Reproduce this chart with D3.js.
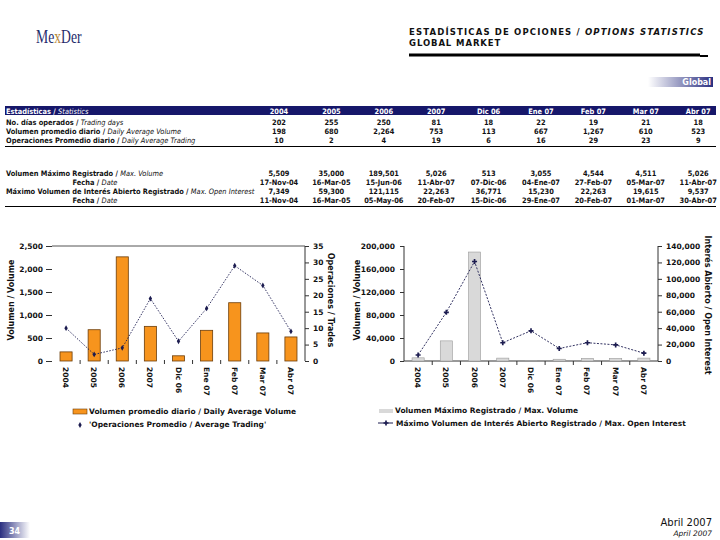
<!DOCTYPE html>
<html><head><meta charset="utf-8">
<script src="https://cdn.jsdelivr.net/npm/d3@7"></script>
<style>
body{margin:0;background:#fff;}
svg{display:block;}
text{font-family:"DejaVu Sans",Verdana,sans-serif;}
.tb text{font-family:"DejaVu Sans Condensed","DejaVu Sans",sans-serif;font-stretch:condensed;font-size:7.4px;font-weight:bold;}
.tb .en{font-weight:normal;font-style:italic;}
.ax text{font-family:"DejaVu Sans",sans-serif;font-size:7.5px;font-weight:bold;fill:#111;}
.ax line,.ax path{stroke:#333;}
</style></head>
<body>
<svg id="c" width="720" height="540"></svg>
<script>
// ---------- data ----------
const categories = ["2004","2005","2006","2007","Dic 06","Ene 07","Feb 07","Mar 07","Abr 07"];
const tradingDays = [202,255,250,81,18,22,19,21,18];
const dailyAvgVolume = [198,680,2264,753,113,667,1267,610,523];
const dailyAvgTrades = [10,2,4,19,6,16,29,23,9];
const maxVolume = [5509,35000,189501,5026,513,3055,4544,4511,5026];
const maxVolumeDate = ["17-Nov-04","16-Mar-05","15-Jun-06","11-Abr-07","07-Dic-06","04-Ene-07","27-Feb-07","05-Mar-07","11-Abr-07"];
const maxOpenInterest = [7349,59300,121115,22263,36771,15230,22263,19615,9537];
const maxOpenInterestDate = ["11-Nov-04","16-Mar-05","05-May-06","20-Feb-07","15-Dic-06","29-Ene-07","20-Feb-07","01-Mar-07","30-Abr-07"];
const leftTicksA = [0,500,1000,1500,2000,2500];
const rightTicksA = [0,5,10,15,20,25,30,35];
const leftTicksB = [0,40000,80000,120000,160000,200000];
const rightTicksB = [0,20000,40000,60000,80000,100000,120000,140000];

const svg = d3.select("#c");
const fmt = d3.format(",");

// ---------- header ----------
const defs = svg.append("defs");
const g1 = defs.append("linearGradient").attr("id","gGlobal").attr("x1","0").attr("x2","1");
g1.append("stop").attr("offset","0").attr("stop-color","#ffffff");
g1.append("stop").attr("offset","1").attr("stop-color","#2a2f80");
const g2 = defs.append("linearGradient").attr("id","gPage").attr("x1","0").attr("x2","1");
g2.append("stop").attr("offset","0").attr("stop-color","#2a2f80");
g2.append("stop").attr("offset","1").attr("stop-color","#ffffff");

const logo = svg.append("text").attr("transform","translate(36,43) scale(0.72,1)")
  .style("font-family","'Liberation Serif','DejaVu Serif',serif").style("font-size","19px")
  .attr("fill","#1f2a6b");
logo.append("tspan").text("Me");
logo.append("tspan").text("x").attr("fill","#b8893a");
logo.append("tspan").text("Der");

const title = svg.append("text").attr("x",409).attr("y",35)
  .style("font-size","8.5px").style("font-weight","bold").style("letter-spacing","1.15px").attr("fill","#111");
title.append("tspan").text("ESTADÍSTICAS DE OPCIONES / ");
title.append("tspan").text("OPTIONS STATISTICS").style("font-style","italic");
svg.append("text").attr("x",409).attr("y",46).text("GLOBAL MARKET")
  .style("font-size","8.5px").style("font-weight","bold").style("letter-spacing","0.9px").attr("fill","#111");
svg.append("rect").attr("x",409).attr("y",53.5).attr("width",291).attr("height",3).attr("fill","#000");
svg.append("rect").attr("x",700).attr("y",55).attr("width",8).attr("height",2).attr("fill","#000");

svg.append("rect").attr("x",648).attr("y",77).attr("width",65).attr("height",10).attr("fill","url(#gGlobal)");
svg.append("text").attr("x",711).attr("y",85).attr("text-anchor","end").text("Global")
  .style("font-size","8px").style("font-weight","bold").attr("fill","#fff");

// ---------- table ----------
const colX = categories.map((c,i)=>279 + i*52.4);
const tbl = svg.append("g").attr("class","tb");
tbl.append("rect").attr("x",5).attr("y",106).attr("width",711).attr("height",9).attr("fill","#16176a");
const hdr = tbl.append("text").attr("x",6).attr("y",113.5).attr("fill","#fff");
hdr.append("tspan").text("Estadísticas / ");
hdr.append("tspan").attr("class","en").text("Statistics");
tbl.selectAll("text.h").data(categories).join("text").attr("class","h")
  .attr("x",(d,i)=>colX[i]).attr("y",113.5).attr("text-anchor","middle").attr("fill","#fff").text(d=>d);

function row(y, es, en, vals, anchor){
  const t = tbl.append("text").attr("y",y).attr("fill","#111");
  if(anchor==="middle"){ t.attr("x",95).attr("text-anchor","middle"); } else { t.attr("x",6); }
  t.append("tspan").text(es);
  t.append("tspan").attr("class","en").text(en);
  tbl.append("g").selectAll("text").data(vals).join("text")
    .attr("x",(d,i)=>colX[i]).attr("y",y).attr("text-anchor","middle").attr("fill","#111").text(d=>d);
}
row(124.5,"No. días operados / ","Trading days",tradingDays.map(fmt));
row(133.5,"Volumen promedio diario / ","Daily Average Volume",dailyAvgVolume.map(fmt));
row(142.5,"Operaciones Promedio diario / ","Daily Average Trading",dailyAvgTrades.map(fmt));
tbl.append("line").attr("x1",5).attr("x2",716).attr("y1",146.5).attr("y2",146.5).attr("stroke","#000").attr("stroke-width",1.2);
row(175.5,"Volumen Máximo Registrado / ","Max. Volume",maxVolume.map(fmt));
row(184.5,"Fecha / ","Date",maxVolumeDate,"middle");
row(193.5,"Máximo Volumen de Interés Abierto Registrado / ","Max. Open Interest",maxOpenInterest.map(fmt));
row(202.5,"Fecha / ","Date",maxOpenInterestDate,"middle");
tbl.append("line").attr("x1",5).attr("x2",716).attr("y1",206.5).attr("y2",206.5).attr("stroke","#000").attr("stroke-width",1.2);

// ---------- chart A ----------
const yTop = 246, yBot = 361;
function band(x0,x1){
  return d3.scaleBand().domain(categories).range([x0,x1]).paddingInner(0.57).paddingOuter(0.285);
}
const xA = band(52,305);
const yA = d3.scaleLinear().domain([0,2500]).range([yBot,yTop]);
const yA2 = d3.scaleLinear().domain([0,35]).range([yBot,yTop]);
const cA = svg.append("g");
cA.append("line").attr("x1",52).attr("x2",305).attr("y1",yA(2500)).attr("y2",yA(2500)).attr("stroke","#555");
cA.append("g").attr("class","ax").attr("transform","translate(52,0)")
  .call(d3.axisLeft(yA).tickValues(leftTicksA).tickSize(6).tickPadding(3).tickFormat(fmt))
  .call(g=>g.select(".domain").remove());
cA.append("g").attr("class","ax").attr("transform","translate(305,0)")
  .call(d3.axisRight(yA2).tickValues(rightTicksA).tickSize(4).tickPadding(4))
  .call(g=>g.select(".domain").attr("d",`M0,${yTop}V${yBot}`));
cA.append("g").selectAll("line").data(categories.slice(0,-1)).join("line")
  .attr("x1",(d)=>xA(d)+xA.bandwidth()+xA.step()*0.285).attr("x2",(d)=>xA(d)+xA.bandwidth()+xA.step()*0.285)
  .attr("y1",yBot-1).attr("y2",yBot+3).attr("stroke","#333");
cA.append("g").selectAll("rect").data(categories).join("rect")
  .attr("x",d=>xA(d)).attr("width",xA.bandwidth())
  .attr("y",(d,i)=>yA(dailyAvgVolume[i])).attr("height",(d,i)=>yBot-yA(dailyAvgVolume[i]))
  .attr("fill","#f7941d").attr("stroke","#6b3d0a").attr("stroke-width",0.8);
const lineA = d3.line().x((d,i)=>xA(categories[i])+xA.bandwidth()/2).y(d=>yA2(d));
cA.append("path").datum(dailyAvgTrades).attr("d",lineA).attr("fill","none")
  .attr("stroke","#1c1c50").attr("stroke-width",0.9).attr("stroke-dasharray","1.5,1.5");
cA.append("g").selectAll("path").data(dailyAvgTrades).join("path")
  .attr("d",d3.symbol(d3.symbolDiamond,10))
  .attr("transform",(d,i)=>`translate(${xA(categories[i])+xA.bandwidth()/2},${yA2(d)})`)
  .attr("fill","#1c1c50");
cA.append("g").selectAll("text").data(categories).join("text")
  .attr("transform",d=>`translate(${xA(d)+xA.bandwidth()/2-3},${yBot+6}) rotate(90)`)
  .text(d=>d).style("font-size","7.5px").style("font-weight","bold").attr("fill","#111");
cA.append("text").attr("transform","translate(14,300) rotate(-90)").attr("text-anchor","middle")
  .text("Volumen / Volume").style("font-size","8px").style("font-weight","bold").attr("fill","#111");
cA.append("text").attr("transform","translate(328,300) rotate(90)").attr("text-anchor","middle")
  .text("Operaciones / Trades").style("font-size","8px").style("font-weight","bold").attr("fill","#111");
cA.append("rect").attr("x",73).attr("y",409).attr("width",14).attr("height",5).attr("fill","#f7941d").attr("stroke","#6b3d0a").attr("stroke-width",0.6);
cA.append("text").attr("x",89).attr("y",414).text("Volumen promedio diario / Daily Average Volume")
  .style("font-size","7.5px").style("font-weight","bold").attr("fill","#111");
cA.append("path").attr("d",d3.symbol(d3.symbolDiamond,10)).attr("transform","translate(80,425)").attr("fill","#1c1c50");
cA.append("text").attr("x",89).attr("y",427).text("'Operaciones Promedio / Average Trading'")
  .style("font-size","7.5px").style("font-weight","bold").attr("fill","#111");

// ---------- chart B ----------
const xB = band(404,658);
const yB = d3.scaleLinear().domain([0,200000]).range([yBot,yTop]);
const yB2 = d3.scaleLinear().domain([0,140000]).range([yBot,yTop]);
const cB = svg.append("g");
cB.append("g").attr("class","ax").attr("transform","translate(404,0)")
  .call(d3.axisLeft(yB).tickValues(leftTicksB).tickSize(4).tickPadding(5).tickFormat(fmt))
  .call(g=>g.select(".domain").attr("d",`M0,${yTop}V${yBot}`));
cB.append("g").attr("class","ax").attr("transform","translate(658,0)")
  .call(d3.axisRight(yB2).tickValues(rightTicksB).tickSize(4).tickPadding(4).tickFormat(fmt))
  .call(g=>g.select(".domain").attr("d",`M0,${yTop}V${yBot}`));
cB.append("line").attr("x1",404).attr("x2",658).attr("y1",yBot).attr("y2",yBot).attr("stroke","#333");
cB.append("g").selectAll("line").data(categories.slice(0,-1)).join("line")
  .attr("x1",(d)=>xB(d)+xB.bandwidth()+xB.step()*0.285).attr("x2",(d)=>xB(d)+xB.bandwidth()+xB.step()*0.285)
  .attr("y1",yBot).attr("y2",yBot+4).attr("stroke","#333");
cB.append("g").selectAll("rect").data(categories).join("rect")
  .attr("x",d=>xB(d)).attr("width",xB.bandwidth())
  .attr("y",(d,i)=>yB(maxVolume[i])).attr("height",(d,i)=>yBot-yB(maxVolume[i]))
  .attr("fill","#d9d9d9").attr("stroke","#9a9a9a").attr("stroke-width",0.6);
const lineB = d3.line().x((d,i)=>xB(categories[i])+xB.bandwidth()/2).y(d=>yB2(d));
cB.append("path").datum(maxOpenInterest).attr("d",lineB).attr("fill","none")
  .attr("stroke","#1c1c50").attr("stroke-width",0.9).attr("stroke-dasharray","2,1.5");
cB.append("g").selectAll("path").data(maxOpenInterest).join("path")
  .attr("d",d3.symbol(d3.symbolCross,14))
  .attr("transform",(d,i)=>`translate(${xB(categories[i])+xB.bandwidth()/2},${yB2(d)})`)
  .attr("fill","#1c1c50");
cB.append("g").selectAll("text").data(categories).join("text")
  .attr("transform",d=>`translate(${xB(d)+xB.bandwidth()/2-3},${yBot+6}) rotate(90)`)
  .text(d=>d).style("font-size","7.5px").style("font-weight","bold").attr("fill","#111");
cB.append("text").attr("transform","translate(360,300) rotate(-90)").attr("text-anchor","middle")
  .text("Volumen / Volume").style("font-size","8px").style("font-weight","bold").attr("fill","#111");
cB.append("text").attr("transform","translate(705,305) rotate(90)").attr("text-anchor","middle")
  .text("Interés Abierto / Open Interest").style("font-size","8px").style("font-weight","bold").attr("fill","#111");
cB.append("rect").attr("x",379).attr("y",409).attr("width",14).attr("height",4).attr("fill","#d9d9d9");
cB.append("text").attr("x",395).attr("y",413).text("Volumen Máximo Registrado / Max. Volume")
  .style("font-size","7.5px").style("font-weight","bold").attr("fill","#111");
cB.append("line").attr("x1",378).attr("x2",393).attr("y1",423).attr("y2",423).attr("stroke","#1c1c50").attr("stroke-width",1);
cB.append("path").attr("d",d3.symbol(d3.symbolCross,14)).attr("transform","translate(386,423)").attr("fill","#1c1c50");
cB.append("text").attr("x",396).attr("y",426).text("Máximo Volumen de Interés Abierto Registrado / Max. Open Interest")
  .style("font-size","7.5px").style("font-weight","bold").attr("fill","#111");

// ---------- footer ----------
svg.append("rect").attr("x",0).attr("y",522).attr("width",30).attr("height",16).attr("fill","url(#gPage)");
svg.append("text").attr("x",9).attr("y",534).text("34").style("font-size","8px").style("font-weight","bold").attr("fill","#fff");
svg.append("text").attr("x",712).attr("y",526).attr("text-anchor","end").text("Abril 2007").style("font-size","10px").attr("fill","#111");
svg.append("text").attr("x",712).attr("y",536).attr("text-anchor","end").text("April 2007").style("font-size","7.5px").style("font-style","italic").attr("fill","#111");
</script>
</body></html>
